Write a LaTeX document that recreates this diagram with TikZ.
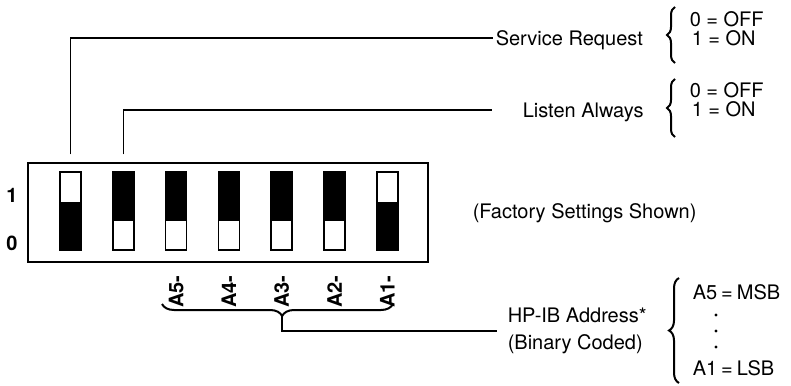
\documentclass[tikz,border=0pt]{standalone}
\usepackage{fontspec}
\setmainfont{TeX Gyre Heros}
\usepackage{tikz}
\usetikzlibrary{positioning}
\usetikzlibrary{decorations.pathreplacing}

\begin{document}
\begin{tikzpicture}[x=0.5pt, y=-0.5pt, line width=0.75pt,
	font=\fontsize{10}{12}\selectfont,
	dipsw/.style={draw, minimum width=10.5pt, minimum height=39pt, inner sep=0pt},
	txt/.style={inner xsep=1pt, inner ysep=0pt, anchor=west, text height=7.2pt, text depth=0pt},
	bit/.style={font=\fontsize{10}{12}\selectfont\bfseries, inner sep=0pt},
	addr/.style={bit, rotate=90, anchor=east},
	curly/.style={decorate, decoration={brace, amplitude=#1}, line width=1pt}]

	\useasboundingbox (0,0) rectangle (791,385);
	% Switch Box %
	\draw (28,163) rectangle (428,262);
	\node[bit] (one) at (12,195) {1};
	\node[bit] (zero) at (12,243) {0};
	% Switches %
	\foreach \i/\x/\s in {1/70.5/0, 2/123.3/1, 3/176.1/1, 4/228.9/1, 5/281.7/1, 6/334.5/1, 7/387.3/0} {
		\node[dipsw] (sw\i) at (\x,211) {};
		\ifnum\s=1
			\fill (sw\i.north west) rectangle ([yshift=-5pt]sw\i.east);
		\else
			\fill ([yshift=4.5pt]sw\i.west) rectangle (sw\i.south east);
		\fi
	}
	% Address Labels %
	\foreach \i/\a in {3/5, 4/4, 5/3, 6/2, 7/1}
		\node[addr] (a\a) at ([yshift=-12pt]sw\i.south) {A\a-};
	% Service Request, Listen Always %
	\node[txt] (sr) at (493,38) {Service Request};
	\node[txt] (la) at (520,110) {Listen Always};
	\draw (sw1.north) ++(0,-17) |- (sr.west);
	\draw (sw2.north) ++(0,-17) |- ([xshift=-14pt]la.west);
	\draw[curly=4pt] (675,63) -- (675,7);
	\node[txt] (off1) at (687,19) {0 = OFF};
	\node[txt] (on1) at (689,38) {1 = ON};
	\draw[curly=4pt] (675,137) -- (675,79);
	\node[txt] (off2) at (687,90) {0 = OFF};
	\node[txt] (on2) at (689,109) {1 = ON};
	% Factory %
	\node[txt] (fact) at (470,211) {(Factory Settings Shown)};
	% Address %
	\draw[curly=6pt, decoration={aspect=0.48}] (393,304) -- (162,304);
	\coordinate (tip) at (282,316);
	\node[inner sep=1pt, anchor=west, align=left, font=\fontsize{10}{13.5}\selectfont] (hpib) at (505,331) {HP-IB Address*\\(Binary Coded)};
	\draw (tip) |- ([xshift=-4pt]hpib.west);
	\draw[curly=5pt] (679,383) -- (679,278);
	\node[txt] (msb) at (690,292) {A5\hspace{0.2em}=\hspace{0.2em}MSB};
	\foreach \y in {315, 331, 347} \fill (716,\y) circle (0.8pt);
	\node[txt] (lsb) at (690,368) {A1\hspace{0.2em}=\hspace{0.2em}LSB};
\end{tikzpicture}
\end{document}
